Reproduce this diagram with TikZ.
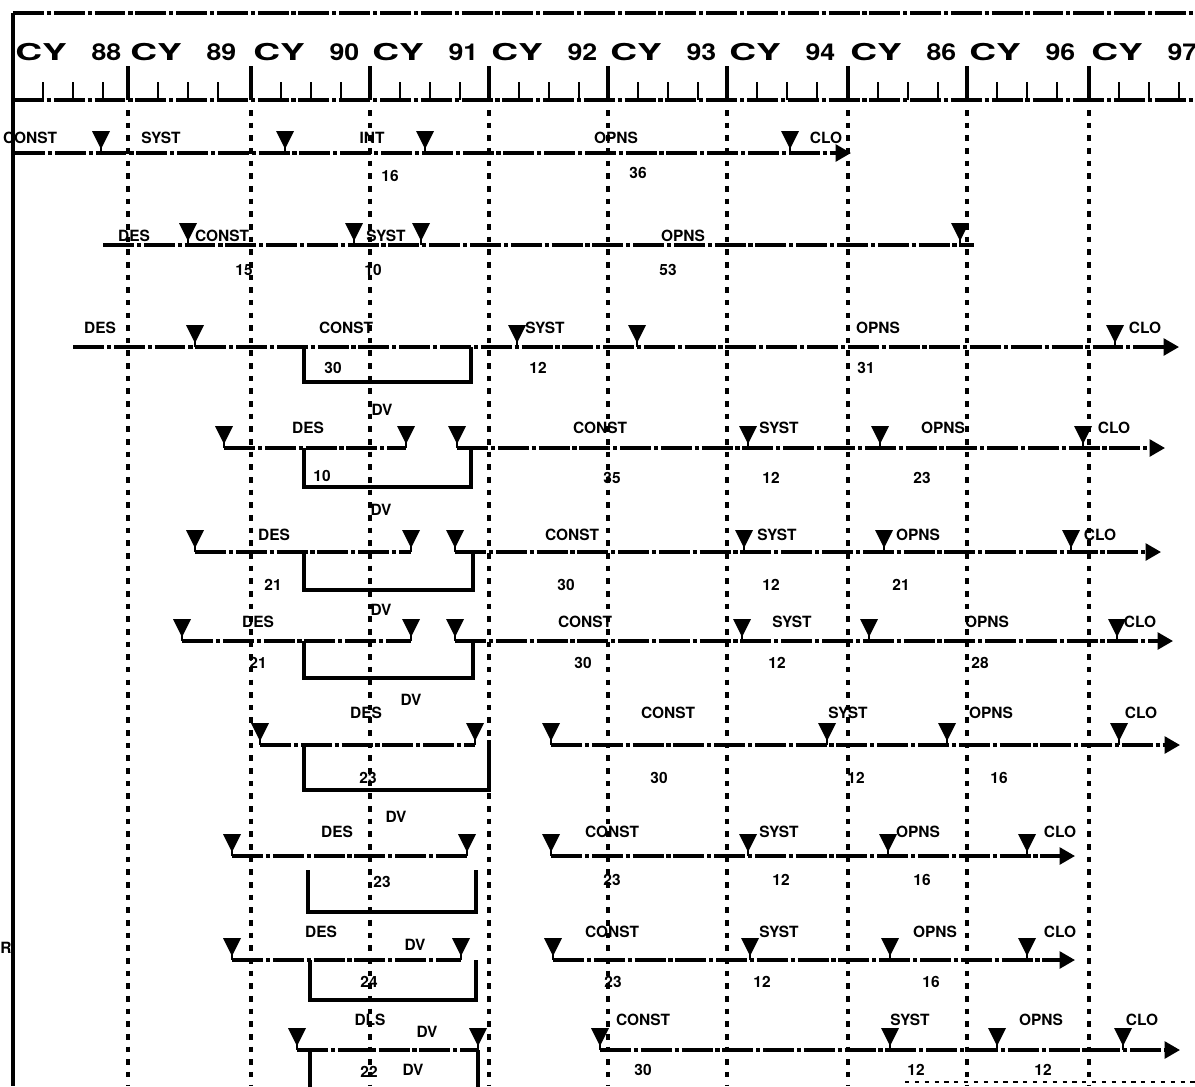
\documentclass[tikz,border=0pt]{standalone}
\usepackage{fontspec}
\setmainfont{TeX Gyre Heros}
\usepackage{graphicx}
\usetikzlibrary{arrows.meta}

\newcommand{\yr}[1]{\makebox[26.5mm]{\scalebox{1.6}[1]{CY}\hfill\scalebox{1.15}[1]{#1}}}

\begin{document}
\begin{tikzpicture}[x=0.025cm,y=-0.025cm,>={Triangle[length=11pt,width=12pt]},
  track/.style={line width=2.3pt,dash pattern=on 22pt off 2pt on 3pt off 2pt},
  yearline/.style={line width=2.4pt,dash pattern=on 4pt off 5pt},
  bracket/.style={line width=2.3pt},
  lbl/.style={font=\fontsize{11}{13}\selectfont\bfseries,inner sep=0pt},
  tri/.pic={\fill (-9,-22) -- (9,-22) -- (0,-4) -- cycle;
            \draw[line width=2pt] (0,-6) -- (0,0);}]
  \useasboundingbox (0,0) rectangle (1195,1086);
  \draw[line width=2.4pt] (13,13) -- (13,1086);
  \draw[track] (13,13) -- (1195,13);
  \foreach \x/\n in {13/88,128/89,251/90,370/91,489/92,608/93,727/94,848/86,967/96,1089/97}
    \node[anchor=west,inner sep=0pt,font=\fontsize{16.5}{18}\selectfont\bfseries] (cy\n) at (\x+2,52) {\yr{\n}};
  \draw[track] (13,100) -- (1195,100);
  \foreach \x in {13,128,251,370,489,608,727,848,967,1089}{
    \draw[line width=2.3pt] (\x,66) -- (\x,100);
    \foreach \d in {30,60,90} \draw[line width=2pt] (\x+\d,82) -- (\x+\d,100);
  }
  \foreach \x in {128,251,370,489,608,727,848,967,1089}
    \draw[yearline] (\x,110) -- (\x,1086);

  \foreach \xa/\xb/\y in {14/851/153,73/1179/347,457/1165/448,455/1161/552,455/1173/641,551/1180/745,551/1075/856,553/1075/960,600/1180/1050}
    \draw[track,->] (\xa,\y) -- (\xb,\y);
  \foreach \xa/\xb/\y in {103/974/245,224/406/448,195/411/552,182/411/641,260/475/745,232/467/856,232/461/960,297/478/1050}
    \draw[track] (\xa,\y) -- (\xb,\y);

  \foreach \y/\xs in {153/{101,285,425,790},245/{188,354,421,960},347/{195,517,637,1115},
      448/{224,406,457,748,880,1083},552/{195,411,455,744,884,1071},641/{182,411,455,742,869,1117},
      745/{260,475,551,827,947,1119},856/{232,467,551,748,888,1027},960/{232,461,553,750,890,1027},
      1050/{297,478,600,890,997,1123}}
    \foreach \x in \xs \pic at (\x,\y) {tri};

  \foreach \xl/\xr/\ya/\yb/\yc in {304/471/347/347/382,304/471/448/448/487,304/473/552/552/590,
      304/473/641/641/678,304/489/745/740/790,308/476/870/870/912,310/476/960/960/1000}
    \draw[bracket] (\xl,\ya) -- (\xl,\yc) -- (\xr,\yc) -- (\xr,\yb);
  \draw[bracket] (310,1096) -- (310,1050) (478,1050) -- (478,1096);

  \foreach \y/\row in {138/{30/CONST,161/SYST,372/INT,616/OPNS,826/CLO},
      236/{134/DES,222/CONST,386/SYST,683/OPNS},
      328/{100/DES,346/CONST,545/SYST,878/OPNS,1145/CLO},
      428/{308/DES,600/CONST,779/SYST,943/OPNS,1114/CLO},
      535/{274/DES,572/CONST,777/SYST,918/OPNS,1100/CLO},
      622/{258/DES,585/CONST,792/SYST,987/OPNS,1140/CLO},
      713/{366/DES,668/CONST,848/SYST,991/OPNS,1141/CLO},
      832/{337/DES,612/CONST,779/SYST,918/OPNS,1060/CLO},
      932/{321/DES,612/CONST,779/SYST,935/OPNS,1060/CLO},
      1020/{370/DLS,643/CONST,910/SYST,1041/OPNS,1142/CLO}}
    \foreach \x/\t in \row \node[lbl] (\t-\x-\y) at (\x,\y) {\t};

  \foreach \x/\y/\t in {390/176/16,638/173/36,244/270/15,373/270/10,668/270/53,
      333/368/30,538/368/12,866/368/31,322/476/10,612/478/35,771/478/12,922/478/23,
      273/585/21,566/585/30,771/585/12,901/585/21,258/663/21,583/663/30,777/663/12,980/663/28,
      368/778/23,659/778/30,856/778/12,999/778/16,382/882/23,612/880/23,781/880/12,922/880/16,
      369/982/24,613/982/23,762/982/12,931/982/16,369/1072/22,643/1070/30,916/1070/12,1043/1070/12}
    \node[lbl] (n\x-\y) at (\x,\y) {\t};
  \foreach \x/\y in {382/410,381/510,381/610,411/700,396/817,415/945,427/1032,413/1070}
    \node[lbl] (dv\y) at (\x,\y) {DV};

  \node[lbl] (r) at (6,948) {R};
  \draw[line width=2pt,dash pattern=on 3pt off 4pt] (905,1082) -- (1195,1082);
\end{tikzpicture}
\end{document}
